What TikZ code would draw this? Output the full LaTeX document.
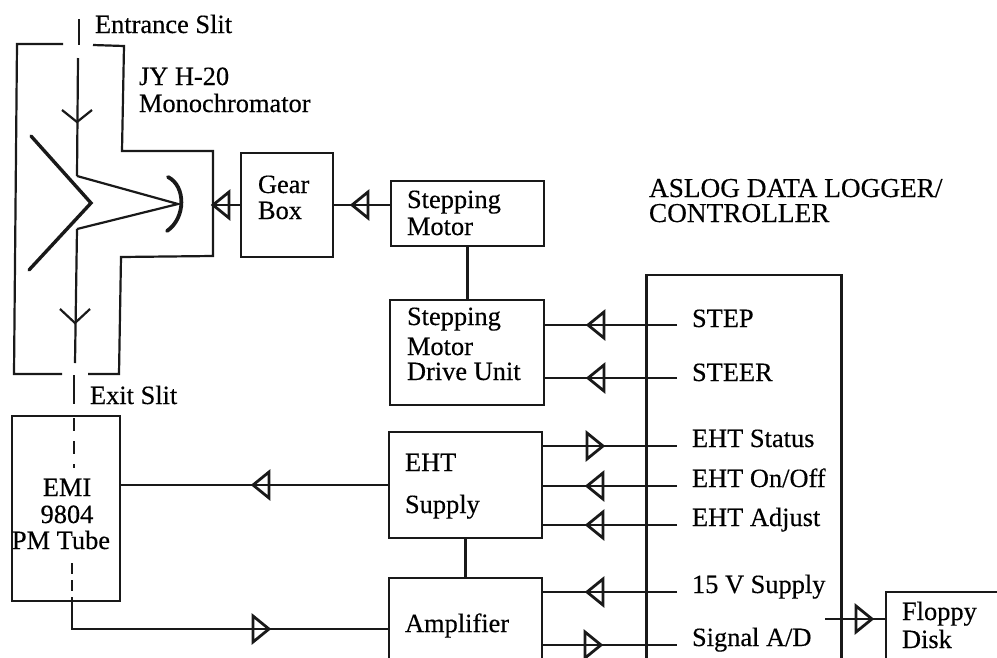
\documentclass[tikz,border=0pt]{standalone}
\usepackage{fontspec}
\setmainfont{Liberation Serif}[RawFeature={embolden=0.35}]
\usetikzlibrary{decorations.markings}
\tikzset{
  ln/.style={line width=2.2pt,black!90},
  thick line/.style={line width=3.4pt,black!90,line cap=round},
  box/.style={draw=black!90,line width=2.3pt,inner sep=0pt,outer sep=0pt},
  txt/.style={anchor=base west,inner sep=0pt,outer sep=0pt,font=\fontsize{26.4}{28}\selectfont},
  ttl/.style={anchor=base west,inner sep=0pt,outer sep=0pt,font=\fontsize{27.3}{29}\selectfont},
  ctr/.style={anchor=base,inner sep=0pt,outer sep=0pt,font=\fontsize{26.4}{28}\selectfont},
  hd/.style={ln,postaction={decorate,decoration={markings,mark=at position #1pt with {
    \draw[line width=2.8pt,black!90,line join=miter] (8,0)--(-8,13)--(-8,-13)--cycle;}}}},
  chev/.style={ln,line join=miter}
}
\begin{document}
\begin{tikzpicture}[x=1pt,y=-1pt]
\clip (0,0) rectangle (997,657);
\fill[white] (0,0) rectangle (997,657);
% monochromator outline
\draw[ln] (63,44) -- (17,44) -- (14,374) -- (62,374);
\draw[ln] (93,45) -- (124,46) -- (122,151) -- (213,151) -- (213,256) -- (121,257) -- (119,374) -- (88,374);
\coordinate (mono) at (213,205);
\coordinate (bt) at (77,176);
\coordinate (bb) at (77,229);
\coordinate (focus) at (178,204);
% beam
\draw[ln] (79,19) -- (79,45);
\draw[ln] (78,58) -- (bt);
\draw[chev] (62,110) -- (77,122) -- (92,110);
\draw[ln] (bt) -- (focus) -- (bb);
\draw[ln] (bb) -- (75,363);
\draw[chev] (60,309) -- (75,323) -- (90,309);
\draw[ln] (74,375) -- (74,404);
% grating and mirror
\draw[thick line,line join=miter] (31,136) -- (91,203) -- (29,270);
\draw[line width=3.8pt,black!90,line cap=round] (168,177) .. controls (186,186) and (186,218) .. (167,231);
% boxes
\node[box,minimum width=92pt,minimum height=104pt] (gear) at (287,205) {};
\node[box,minimum width=153pt,minimum height=65pt] (motor) at (467.5,213.5) {};
\node[box,minimum width=154pt,minimum height=105pt] (drive) at (467,352.5) {};
\node[box,minimum width=153pt,minimum height=106pt] (eht) at (465.5,485) {};
\node[box,minimum width=153pt,minimum height=120pt] (amp) at (465.5,638) {};
\node[box,minimum width=108pt,minimum height=185pt] (emi) at (66,508.5) {};
\node[box,minimum width=195pt,minimum height=460pt] (aslog) at (744,505) {};
\node[box,minimum width=160pt,minimum height=120pt] (floppy) at (966,652) {};
% named free ends
\coordinate (eStep) at (677,325);
\coordinate (eSteer) at (677,378);
\coordinate (eStatus) at (677,446);
\coordinate (eOn) at (677,486);
\coordinate (eAdj) at (677,525);
\coordinate (e15) at (677,592);
\coordinate (eSig) at (677,645);
\coordinate (eFl) at (825,619);
% connectors
\draw[hd=20] (gear.west |- mono) -- (mono);
\draw[hd=31] (motor.west |- gear.east) -- (gear.east);
\draw[ln] (motor.south) -- (motor.south |- drive.north);
\draw[hd=81] (eStep) -- (drive.east |- eStep);
\draw[hd=81] (eSteer) -- (drive.east |- eSteer);
\draw[hd=53] (eht.east |- eStatus) -- (eStatus);
\draw[hd=82] (eOn) -- (eht.east |- eOn);
\draw[hd=82] (eAdj) -- (eht.east |- eAdj);
\draw[hd=82] (e15) -- (amp.east |- e15);
\draw[hd=51] (amp.east |- eSig) -- (eSig);
\draw[hd=39] (eFl) -- (floppy.west |- eFl);
\draw[ln] (eht.south) -- (amp.north);
\draw[hd=128] (eht.west) -- (emi.east |- eht.west);
\coordinate (corner) at (72,629);
\draw[hd=217] (emi.south -| corner) -- (corner) -- (amp.west |- corner);
% dashes in the tube
\draw[line width=1.3pt,black!90,dash pattern=on 13pt off 10pt] (74,418) -- (74,468);
\draw[line width=1.3pt,black!90,dash pattern=on 11pt off 6pt] (72,563) -- (72,600);
% texts
\node[txt] (t1) at (95,33) {Entrance Slit};
\node[txt] (t2) at (139,85) {JY H-20};
\node[txt] (t3) at (139,112) {Monochromator};
\node[txt] (t4) at (90,404) {Exit Slit};
\node[txt] (t5) at (258,193) {Gear};
\node[txt] (t6) at (258,219) {Box};
\node[txt] (t7) at (407,208) {Stepping};
\node[txt] (t8) at (407,235) {Motor};
\node[txt] (t9) at (407,325) {Stepping};
\node[txt] (t10) at (407,355) {Motor};
\node[txt] (t11) at (407,380) {Drive Unit};
\node[ttl] (t12) at (649,197) {ASLOG DATA LOGGER/};
\node[ttl] (t13) at (649,222) {CONTROLLER};
\node[txt] (t14) at (692,327) {STEP};
\node[txt] (t15) at (692,381) {STEER};
\node[txt] (t16) at (692,447) {EHT Status};
\node[txt] (t17) at (692,487) {EHT On/Off};
\node[txt] (t18) at (692,526) {EHT Adjust};
\node[txt] (t19) at (692,593) {15 V Supply};
\node[txt] (t20) at (692,646) {Signal A/D};
\node[txt] (t21) at (902,620) {Floppy};
\node[txt] (t22) at (902,648) {Disk};
\node[txt] (t23) at (405,471) {EHT};
\node[txt] (t24) at (405,513) {Supply};
\node[txt] (t25) at (405,632) {Amplifier};
\node[ctr] (t26) at (67,496) {EMI};
\node[ctr] (t27) at (67,523) {9804};
\node[ctr] (t28) at (61,549) {PM Tube};
\end{tikzpicture}
\end{document}
